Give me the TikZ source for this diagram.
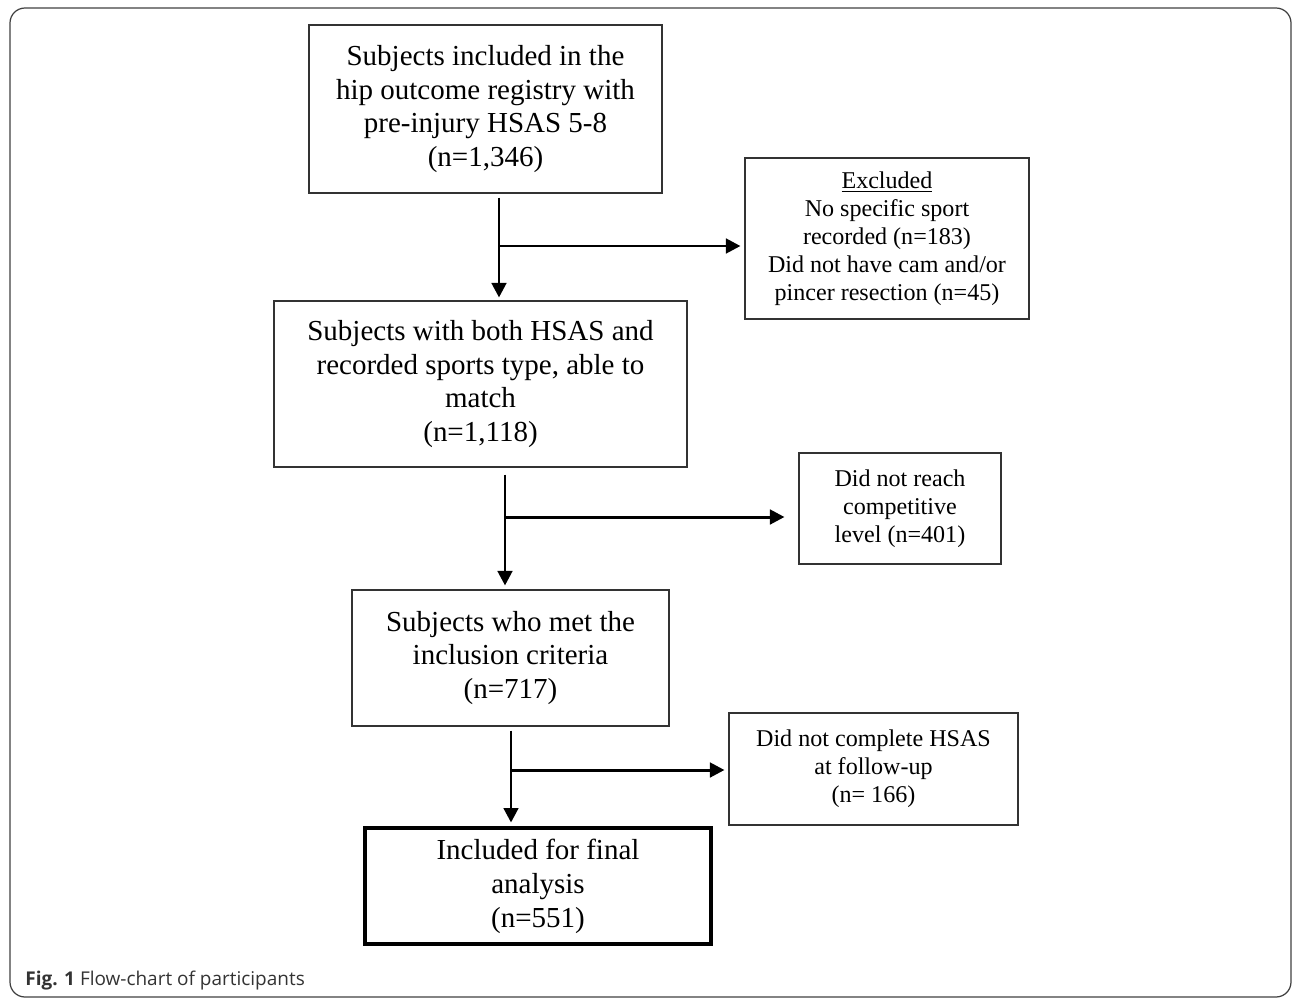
\documentclass[tikz,border=0pt]{standalone}
\usepackage{fontspec}
\setmainfont{Liberation Serif}
\newfontfamily\capfont{Open Sans}
\usetikzlibrary{arrows.meta}
\newcommand{\bigtext}{\fontsize{16.5}{19.3}\selectfont}
\newcommand{\smalltext}{\fontsize{13.7}{15.9}\selectfont}
\tikzset{
  stage/.style={draw=black!80, line width=0.6pt, align=center, inner sep=0pt, font=\bigtext},
  side/.style={draw=black!80, line width=0.6pt, align=center, inner sep=0pt, font=\smalltext},
  final/.style={stage, draw=black, line width=2.8pt},
  flow/.style={line width=1.7pt, -{Triangle[length=0.29cm,width=0.29cm]}}
}
\newcommand{\flowbox}[7]{\node[#6, minimum width={(#4-#2)*0.02cm}, minimum height={(#5-#3)*0.02cm}] (#1) at ({(#2+#4)/2},{(#3+#5)/2}) {#7};}

\begin{document}
\begin{tikzpicture}[x=0.02cm, y=-0.02cm]
        \useasboundingbox (0,0) rectangle (1292,998);
        \draw[black!75, line width=0.7pt, rounded corners=0.3cm] (10,8) rectangle (1291,997);
        % main column
        \flowbox{incl}{309}{25}{662}{193}{stage}{Subjects included in the\\hip outcome registry with\\pre-injury HSAS 5-8\\(n=1,346)}
        \flowbox{both}{274}{301}{687}{467}{stage}{Subjects with both HSAS and\\recorded sports type, able to\\match\\(n=1,118)}
        \flowbox{met}{352}{590}{669}{726}{stage}{Subjects who met the\\inclusion criteria\\(n=717)}
        \flowbox{ana}{365}{828}{711}{944}{final}{Included for final\\analysis\\(n=551)}
        % side boxes
        \flowbox{excl}{745}{158}{1029}{319}{side}{\underline{Excluded}\\No specific sport\\recorded (n=183)\\Did not have cam and/or\\pincer resection (n=45)}
        \flowbox{comp}{799}{453}{1001}{564}{side}{Did not reach\\competitive\\level (n=401)}
        \flowbox{foll}{729}{713}{1018}{825}{side}{Did not complete HSAS\\at follow-up\\(n= 166)}
        % arrows
        \coordinate (s1) at (499,246);
        \coordinate (s2) at (505,517);
        \coordinate (s3) at (511,770);
        \draw[flow, shorten <=0.08cm, shorten >=0.06cm] (s1 |- incl.south) -- (s1 |- both.north);
        \draw[flow, shorten >=0.08cm] (s1) -- (s1 -| excl.west);
        \draw[flow, shorten <=0.14cm, shorten >=0.08cm] (s2 |- both.south) -- (s2 |- met.north);
        \draw[flow, shorten >=0.28cm] (s2) -- (s2 -| comp.west);
        \draw[flow, shorten <=0.08cm, shorten >=0.06cm] (s3 |- met.south) -- (s3 |- ana.north);
        \draw[flow, shorten >=0.08cm] (s3) -- (s3 -| foll.west);
        % caption
        \node[anchor=base west, inner sep=0pt, text=black!80, font=\capfont\fontsize{10.8}{13}\selectfont] (cap) at (25,985) {\textbf{Fig. 1} Flow-chart of participants};
\end{tikzpicture}
\end{document}
